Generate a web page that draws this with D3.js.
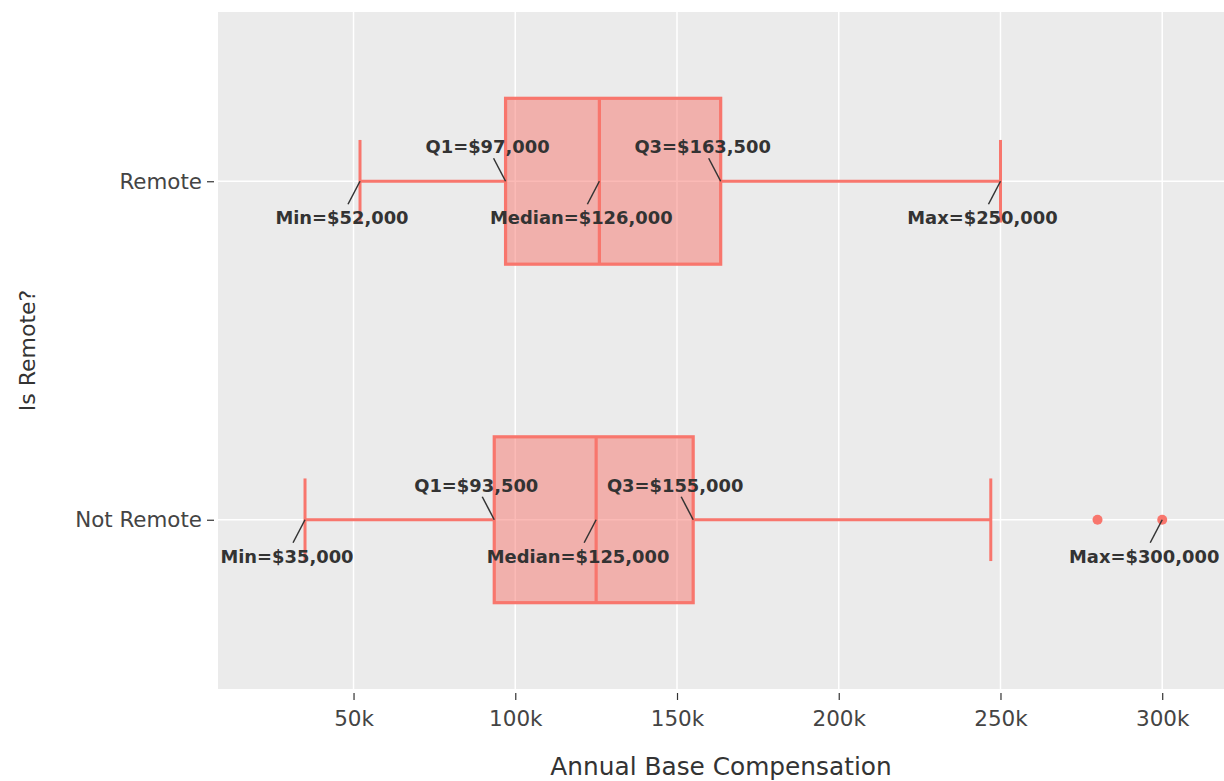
<!DOCTYPE html>
<html>
<head>
<meta charset="utf-8">
<script src="https://cdn.jsdelivr.net/npm/d3@7"></script>
<style>
  html, body { margin: 0; padding: 0; background: #ffffff; }
  svg { display: block; font-family: "DejaVu Sans", sans-serif; }
</style>
</head>
<body>
<svg id="chart" width="1224" height="781"></svg>
<script>
// Annual base compensation by work arrangement
const categories = ["Remote", "Not Remote"];
const mins = [52000, 35000];
const q1s = [97000, 93500];
const medians = [126000, 125000];
const q3s = [163500, 155000];
const whiskerHighs = [250000, 247000];
const maxs = [250000, 300000];
const outliers = [[], [280000, 300000]];
const xTicks = [50000, 100000, 150000, 200000, 250000, 300000];
const xTickLabels = ["50k", "100k", "150k", "200k", "250k", "300k"];

const W = 1224, H = 781;
const margin = { top: 12, right: 0, bottom: 92, left: 218 };
const fillColor = "#F8766D";

const svg = d3.select("#chart");

const x = d3.scaleLinear()
  .domain([8100, 319100])
  .range([margin.left, W - margin.right]);

const y = d3.scalePoint()
  .domain(categories)
  .range([margin.top, H - margin.bottom])
  .padding(0.5);

const boxHalf = y.step() * 0.245;
const capHalf = y.step() * 0.122;

// panel background
svg.append("rect")
  .attr("x", margin.left).attr("y", margin.top)
  .attr("width", W - margin.left - margin.right)
  .attr("height", H - margin.top - margin.bottom)
  .attr("fill", "#ebebeb");

// grid
svg.append("g").selectAll("line").data(xTicks).join("line")
  .attr("x1", d => x(d)).attr("x2", d => x(d))
  .attr("y1", margin.top).attr("y2", H - margin.bottom)
  .attr("stroke", "#ffffff").attr("stroke-width", 1.5);
svg.append("g").selectAll("line").data(categories).join("line")
  .attr("x1", margin.left).attr("x2", W - margin.right)
  .attr("y1", d => y(d)).attr("y2", d => y(d))
  .attr("stroke", "#ffffff").attr("stroke-width", 1.5);

// axes
const xAxis = svg.append("g")
  .attr("transform", `translate(0,${H - margin.bottom + 4})`)
  .call(d3.axisBottom(x).tickValues(xTicks)
    .tickFormat((d, i) => xTickLabels[i]).tickSize(7).tickPadding(11));
xAxis.select(".domain").remove();
xAxis.selectAll(".tick line").attr("stroke", "#333").attr("stroke-width", 1.2);
xAxis.selectAll(".tick text").attr("fill", "#444").attr("font-size", 21.5)
  .attr("font-family", "DejaVu Sans");

const yAxis = svg.append("g")
  .attr("transform", `translate(${margin.left - 4},0)`)
  .call(d3.axisLeft(y).tickSize(7).tickPadding(5));
yAxis.select(".domain").remove();
yAxis.selectAll(".tick line").attr("stroke", "#333").attr("stroke-width", 1.2);
yAxis.selectAll(".tick text").attr("fill", "#444").attr("font-size", 21.4)
  .attr("font-family", "DejaVu Sans");

// axis titles
svg.append("text")
  .attr("x", (margin.left + W - margin.right) / 2).attr("y", 775)
  .attr("text-anchor", "middle").attr("font-size", 24.8).attr("fill", "#333")
  .text("Annual Base Compensation");
svg.append("text")
  .attr("transform", `translate(35,${(margin.top + H - margin.bottom) / 2}) rotate(-90)`)
  .attr("text-anchor", "middle").attr("font-size", 22).attr("fill", "#333")
  .text("Is Remote?");

// boxes
const rows = categories.map((c, i) => ({
  cat: c, min: mins[i], q1: q1s[i], med: medians[i], q3: q3s[i],
  hi: whiskerHighs[i], max: maxs[i], out: outliers[i]
}));

const g = svg.append("g");
rows.forEach(r => {
  const cy = y(r.cat);
  // whiskers
  g.append("line").attr("x1", x(r.min)).attr("x2", x(r.q1))
    .attr("y1", cy).attr("y2", cy)
    .attr("stroke", fillColor).attr("stroke-width", 3);
  g.append("line").attr("x1", x(r.q3)).attr("x2", x(r.hi))
    .attr("y1", cy).attr("y2", cy)
    .attr("stroke", fillColor).attr("stroke-width", 3);
  // caps
  [r.min, r.hi].forEach(v => {
    g.append("line").attr("x1", x(v)).attr("x2", x(v))
      .attr("y1", cy - capHalf).attr("y2", cy + capHalf)
      .attr("stroke", fillColor).attr("stroke-width", 3);
  });
  // box
  g.append("rect")
    .attr("x", x(r.q1)).attr("y", cy - boxHalf)
    .attr("width", x(r.q3) - x(r.q1)).attr("height", 2 * boxHalf)
    .attr("fill", fillColor).attr("fill-opacity", 0.5)
    .attr("stroke", fillColor).attr("stroke-width", 3.2);
  // median
  g.append("line").attr("x1", x(r.med)).attr("x2", x(r.med))
    .attr("y1", cy - boxHalf).attr("y2", cy + boxHalf)
    .attr("stroke", fillColor).attr("stroke-width", 3.2);
  // outliers
  g.selectAll(null).data(r.out).join("circle")
    .attr("cx", d => x(d)).attr("cy", cy).attr("r", 5)
    .attr("fill", fillColor);
});

// summary annotations
const fmt = v => "$" + d3.format(",")(v);
const ann = svg.append("g");
rows.forEach(r => {
  const cy = y(r.cat);
  const items = [
    { name: "Min", v: r.min, up: false },
    { name: "Q1", v: r.q1, up: true },
    { name: "Median", v: r.med, up: false },
    { name: "Q3", v: r.q3, up: true },
    { name: "Max", v: r.max, up: false }
  ];
  items.forEach(it => {
    const px = x(it.v);
    const s = it.up ? -1 : 1;
    ann.append("line")
      .attr("x1", px).attr("y1", cy)
      .attr("x2", px - 12).attr("y2", cy + s * 23)
      .attr("stroke", "#333").attr("stroke-width", 1.5);
    ann.append("text")
      .attr("x", px - 18).attr("y", it.up ? cy - 28 : cy + 43)
      .attr("text-anchor", "middle")
      .attr("font-size", 17.9).attr("font-weight", "bold").attr("fill", "#333")
      .text(`${it.name}=${fmt(it.v)}`);
  });
});
</script>
</body>
</html>
